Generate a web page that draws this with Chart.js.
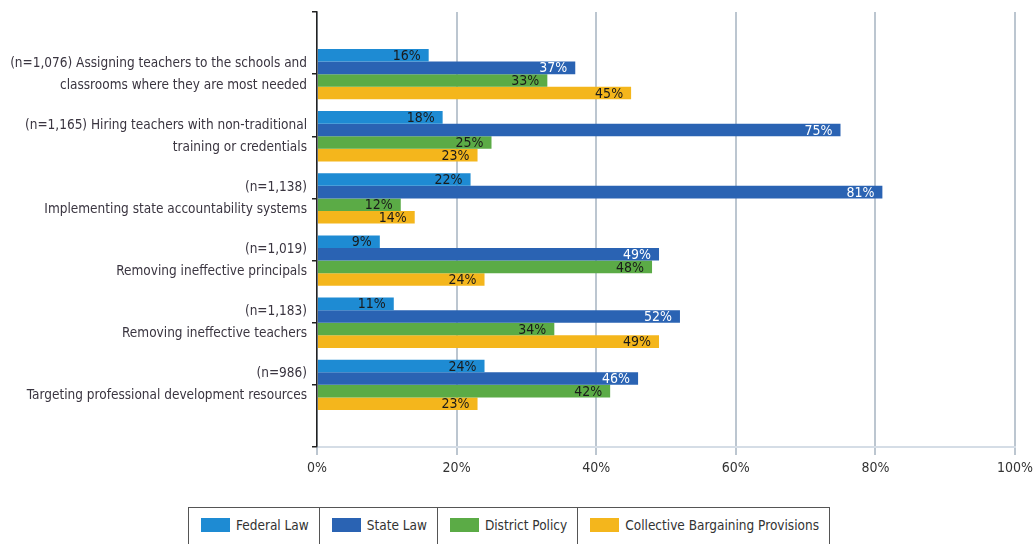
<!DOCTYPE html>
<html>
<head>
<meta charset="utf-8">
<script src="https://cdn.jsdelivr.net/npm/chart.js@4/dist/chart.umd.min.js"></script>
<style>
  html,body{margin:0;padding:0;background:#fff;overflow:hidden;}
  #wrap{position:relative;width:1035px;height:544px;}
  #legend{position:absolute;left:188px;top:507px;display:flex;border:1px solid #555;border-bottom:none;height:40px;
    font-family:'Liberation Sans Narrow','DejaVu Sans Condensed','Roboto Condensed',sans-serif;font-size:13.5px;color:#333;}
  #legend .it{display:flex;align-items:flex-start;padding:9px 10px 0 12px;border-left:1px solid #555;white-space:nowrap;}
  #legend .it:first-child{border-left:none;}
  #legend .sw{display:inline-block;width:29px;height:14px;margin:1px 6px 0 0;}
</style>
</head>
<body>
<div id="wrap">
  <canvas id="c" width="1035" height="505"></canvas>
  <div id="legend"></div>
</div>
<script>
const FONT = "'Liberation Sans Narrow','DejaVu Sans Condensed','Roboto Condensed',sans-serif";

const CATEGORIES = [
  ["(n=1,076) Assigning teachers to the schools and", "classrooms where they are most needed"],
  ["(n=1,165) Hiring teachers with non-traditional", "training or credentials"],
  ["(n=1,138)", "Implementing state accountability systems"],
  ["(n=1,019)", "Removing ineffective principals"],
  ["(n=1,183)", "Removing ineffective teachers"],
  ["(n=986)", "Targeting professional development resources"],
];
const FEDERAL  = [16, 18, 22, 9, 11, 24];
const STATE    = [37, 75, 81, 49, 52, 46];
const DISTRICT = [33, 25, 12, 48, 34, 42];
const BARGAIN  = [45, 23, 14, 24, 49, 23];
const X_TICKS  = [0, 20, 40, 60, 80, 100];

const SERIES = [
  {label:"Federal Law", data:FEDERAL, color:"#1e8bd3", text:"#1a1a1a"},
  {label:"State Law", data:STATE, color:"#2a63b3", text:"#ffffff"},
  {label:"District Policy", data:DISTRICT, color:"#5bab46", text:"#1a1a1a"},
  {label:"Collective Bargaining Provisions", data:BARGAIN, color:"#f4b61c", text:"#1a1a1a"},
];

// empty slot above and below so the axis runs past the first and last group
const labels = ["", ...CATEGORIES, ""];
const datasets = SERIES.map(s => ({
  label: s.label,
  data: [null, ...s.data, null],
  backgroundColor: s.color,
  borderWidth: 0,
  categoryPercentage: 0.81,
  barPercentage: 1.0,
  textColor: s.text,
}));

const barLabels = {
  id: "barLabels",
  afterDatasetsDraw(chart){
    const ctx = chart.ctx;
    ctx.save();
    ctx.font = "14px " + FONT;
    ctx.textAlign = "right";
    ctx.textBaseline = "middle";
    chart.data.datasets.forEach((ds, i) => {
      chart.getDatasetMeta(i).data.forEach((bar, j) => {
        const v = ds.data[j];
        if(v === null || v === undefined) return;
        ctx.fillStyle = ds.textColor;
        ctx.fillText(v + "%", bar.x - 8, bar.y + 1);
      });
    });
    ctx.restore();
  }
};

new Chart(document.getElementById("c"), {
  type: "bar",
  data: {labels, datasets},
  options: {
    indexAxis: "y",
    responsive: false,
    animation: false,
    layout: {padding: {top: 12, right: 20, left: 0, bottom: 0}},
    plugins: {legend: {display: false}, tooltip: {enabled: false}},
    scales: {
      x: {
        min: 0, max: 100,
        afterBuildTicks(scale){ scale.ticks = X_TICKS.map(v => ({value: v})); },
        afterFit(scale){ scale.height = 58; scale.paddingLeft = 0; scale.paddingRight = 0; },
        grid: {color: "#bcc6d0", lineWidth: 2, tickLength: 8},
        border: {color: "#d5dde6", width: 2},
        ticks: {color: "#333", font: {family: FONT, size: 14}, padding: 5, callback: v => v + "%"},
      },
      y: {
        offset: false,
        afterFit(scale){ scale.width = 317; scale.paddingTop = 0; scale.paddingBottom = 0; },
        grid: {drawOnChartArea: false, offset: false, color: "#222", tickLength: 5, lineWidth: 1.5},
        border: {color: "#222", width: 1.5},
        ticks: {color: "#3a3540", font: {family: FONT, size: 13.5, lineHeight: 1.65}, padding: 5, autoSkip: false},
      }
    }
  },
  plugins: [barLabels]
});

const lg = document.getElementById("legend");
SERIES.forEach(s => {
  const d = document.createElement("div");
  d.className = "it";
  d.innerHTML = '<span class="sw" style="background:' + s.color + '"></span>' + s.label;
  lg.appendChild(d);
});
</script>
</body>
</html>
